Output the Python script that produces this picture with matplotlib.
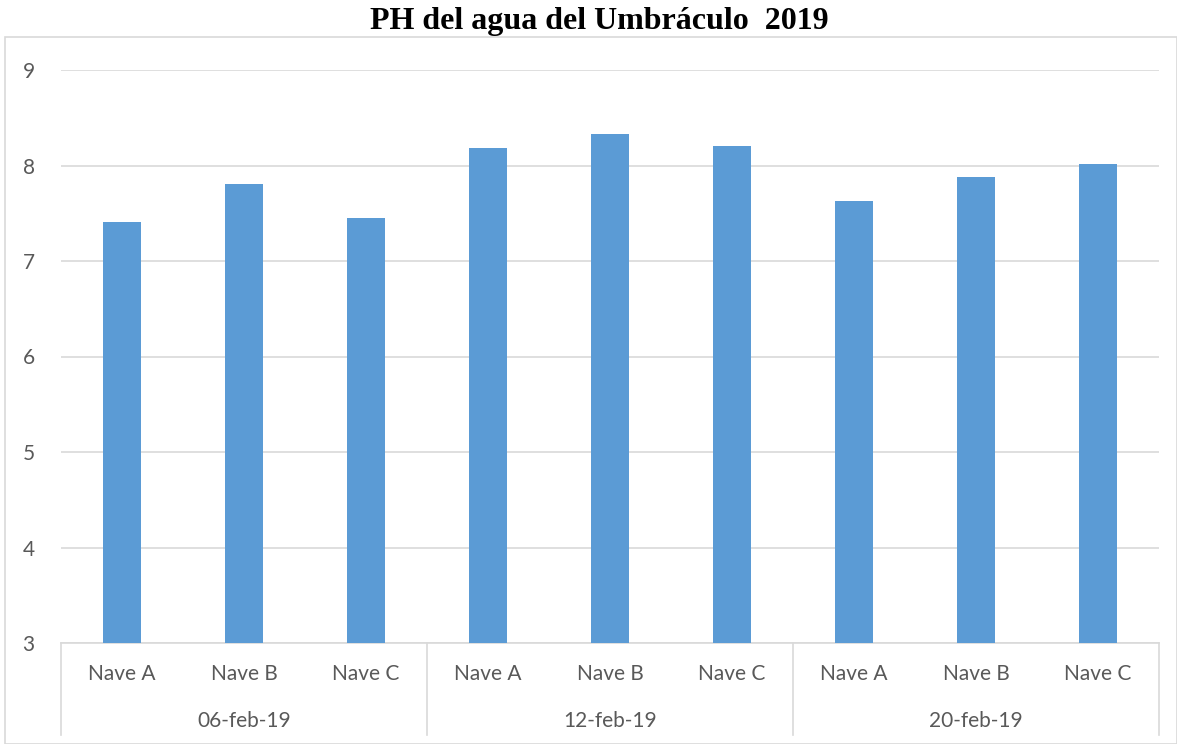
import matplotlib
matplotlib.use('Agg')
import matplotlib.pyplot as plt
from matplotlib.patches import Rectangle
import numpy as np

# data
naves = ['Nave A', 'Nave B', 'Nave C']
fechas = ['06-feb-19', '12-feb-19', '20-feb-19']
ph_values = [7.41, 7.81, 7.45,
             8.18, 8.33, 8.20,
             7.63, 7.88, 8.02]
y_ticks = [3, 4, 5, 6, 7, 8, 9]

W, H = 1177, 744
fig = plt.figure(figsize=(W / 100, H / 100), dpi=100)

# outer chart frame
fig.patches.append(Rectangle((5 / W, 0), 1 - 5 / W, 1 - 37 / H, transform=fig.transFigure,
                             fill=False, edgecolor='#D9D9D9', linewidth=1.2))

fig.text(599 / W, 1 - 22 / H, 'PH del agua del Umbráculo  2019', ha='center', va='center',
         family='Liberation Serif', fontweight='bold', fontsize=23)

left, right = 61 / W, 1159 / W
bottom, top = 1 - 643 / H, 1 - 70 / H
ax = fig.add_axes([left, bottom, right - left, top - bottom])

x = np.arange(len(ph_values))
ax.bar(x, ph_values, width=0.31, color='#5B9BD5', zorder=3)
ax.set_xlim(-0.5, len(ph_values) - 0.5)
ax.set_ylim(3, 9)
ax.set_yticks(y_ticks)
ax.yaxis.grid(True, color='#D9D9D9', linewidth=1.2, zorder=0)
ax.tick_params(axis='y', length=0, pad=19, labelsize=15, labelcolor='#595959')
ax.set_xticks([])
for lab in ax.get_yticklabels():
    lab.set_family('Lato')
for s in ['top', 'right', 'left']:
    ax.spines[s].set_visible(False)
ax.spines['bottom'].set_color('#D9D9D9')
ax.spines['bottom'].set_linewidth(1.2)

# two-level category axis
trans = ax.get_xaxis_transform()
ax_h = 643 - 70
for i, v in enumerate(ph_values):
    ax.text(i, -31 / ax_h, naves[i % 3], transform=trans, ha='center', va='center',
            fontsize=15, color='#595959', family='Lato')
for g, f in enumerate(fechas):
    ax.text(g * 3 + 1, -78 / ax_h, f, transform=trans, ha='center', va='center',
            fontsize=15, color='#595959', family='Lato')
for b in range(len(fechas) + 1):
    ax.plot([b * 3 - 0.5, b * 3 - 0.5], [0, -92 / ax_h], transform=trans, clip_on=False,
            color='#D9D9D9', linewidth=1.2)

fig.savefig('out.png', dpi=100)
